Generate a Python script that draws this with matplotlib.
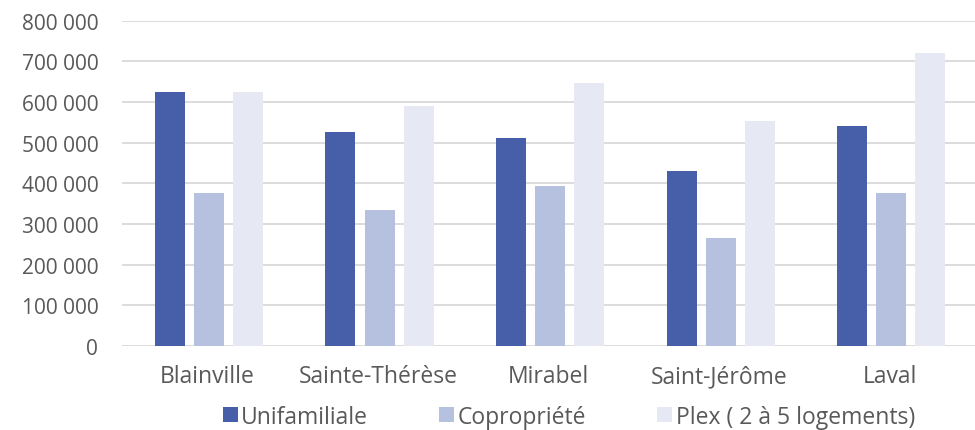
import matplotlib
matplotlib.use("Agg")
import matplotlib.pyplot as plt
import numpy as np

villes = ["Blainville", "Sainte-Thérèse", "Mirabel", "Saint-Jérôme", "Laval"]
unifamiliale = [624000, 526000, 511000, 430000, 540000]
copropriete = [376000, 334000, 393000, 265000, 375000]
plex = [624000, 590000, 646000, 553000, 720000]
series_noms = ["Unifamiliale", "Copropriété", "Plex ( 2 à 5 logements)"]
couleurs = ["#475EA8", "#B6C0DF", "#E6E8F4"]
yticks = np.arange(0, 800001, 100000)

plt.rcParams["font.family"] = ["Open Sans", "DejaVu Sans"]
fs_y = 15
fs_x = 16.5

fig = plt.figure(figsize=(9.75, 4.31), dpi=100)
ax = fig.add_axes([0.125, 0.195, 0.875, 0.755])

x = np.arange(len(villes))
w = 0.176
step = 0.229
for i, (vals, nom, c) in enumerate(zip([unifamiliale, copropriete, plex], series_noms, couleurs)):
    ax.bar(x + (i - 1) * step + 0.01, vals, width=w, color=c, label=nom, zorder=3)

ax.set_xlim(-0.5, len(villes) - 0.5)
ax.set_ylim(0, 800000)
ax.set_yticks(yticks)
ax.set_yticklabels([f"{v:,}".replace(",", " ") for v in yticks])
ax.set_xticks(x)
ax.set_xticklabels(villes)
ax.yaxis.grid(True, color="#D9D9D9", linewidth=1.3, zorder=0)
ax.tick_params(axis="y", length=0, pad=17, labelsize=fs_y, labelcolor="#595959")
ax.tick_params(axis="x", length=0, pad=13, labelsize=fs_x, labelcolor="#595959")
for s in ax.spines.values():
    s.set_visible(False)

ax.legend(loc="center", bbox_to_anchor=(0.524, -0.218), ncol=3, frameon=False,
          fontsize=fs_x, labelcolor="#595959", handlelength=0.65, handleheight=0.65,
          handletextpad=0.15, columnspacing=3.1, borderpad=0)

fig.savefig("out.png", dpi=100)
